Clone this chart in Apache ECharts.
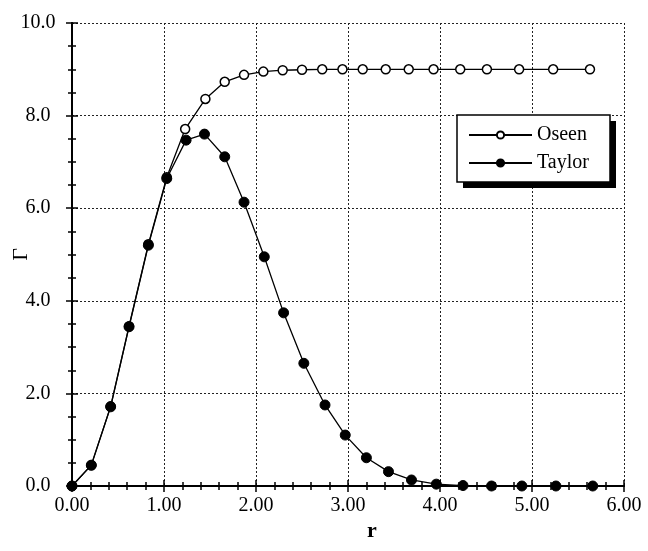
<!DOCTYPE html>
<html><head><meta charset="utf-8">
<script src="https://cdn.jsdelivr.net/npm/echarts@6/dist/echarts.min.js"></script>
<style>html,body{margin:0;padding:0;background:#fff}#c{width:648px;height:551px}</style>
</head><body><div id="c"></div>
<script>
const rOseen = [0, 0.21, 0.42, 0.62, 0.83, 1.03, 1.23, 1.45, 1.66, 1.87, 2.08, 2.29, 2.50, 2.72, 2.94, 3.16, 3.41, 3.66, 3.93, 4.22, 4.51, 4.86, 5.23, 5.63];
const gOseen = [0, 0.45, 1.72, 3.45, 5.22, 6.67, 7.71, 8.36, 8.73, 8.88, 8.95, 8.98, 8.99, 9.0, 9.0, 9.0, 9.0, 9.0, 9.0, 9.0, 9.0, 9.0, 9.0, 9.0];
const rTaylor = [0, 0.21, 0.42, 0.62, 0.83, 1.03, 1.24, 1.44, 1.66, 1.87, 2.09, 2.30, 2.52, 2.75, 2.97, 3.20, 3.44, 3.69, 3.96, 4.25, 4.56, 4.89, 5.26, 5.66];
const gTaylor = [0, 0.45, 1.71, 3.44, 5.20, 6.64, 7.47, 7.60, 7.11, 6.13, 4.95, 3.74, 2.65, 1.75, 1.10, 0.61, 0.31, 0.13, 0.04, 0.01, 0, 0, 0, 0];
const xTicks = ['0.00','1.00','2.00','3.00','4.00','5.00','6.00'];
const yTicks = ['0.0','2.0','4.0','6.0','8.0','10.0'];

const font = 'Liberation Serif';
const ax = {color:'#000', width:2};
const chart = echarts.init(document.getElementById('c'));
const pair = (xs, ys) => xs.map((x,i)=>[x, ys[i]]);
chart.setOption({
  animation:false,
  grid:{left:72, right:24, top:23, bottom:65, outerBoundsMode:'none', containLabel:false},
  graphic:[
    {type:'rect', z:50, shape:{x:463, y:121, width:153, height:67}, style:{fill:'#000'}},
    {type:'rect', z:51, shape:{x:457, y:115, width:153, height:67}, style:{fill:'#fff', stroke:'#000', lineWidth:1.5}}
  ],
  legend:{
    orient:'vertical', left:468, top:125, z:60,
    padding:0, itemGap:8, itemWidth:63, itemHeight:9,
    textStyle:{fontFamily:font, fontSize:20, color:'#000'},
    data:['Oseen','Taylor']
  },
  xAxis:[{
    type:'value', min:0, max:6, interval:1, position:'bottom',
    name:'r', nameLocation:'middle', nameGap:34, nameMoveOverlap:false,
    nameTextStyle:{fontFamily:font, fontSize:22, fontWeight:'bold', color:'#000', padding:[0,0,0,48]},
    axisLine:{lineStyle:ax},
    axisTick:{inside:true, length:6, lineStyle:{color:'#000', width:1.5}},
    minorTick:{show:true, splitNumber:5, length:4, lineStyle:{color:'#000', width:1.5}},
    axisLabel:{fontFamily:font, fontSize:20, color:'#000', margin:10, formatter:(v)=>xTicks[Math.round(v)]},
    splitLine:{show:true, lineStyle:{color:'#222', type:[2,2], width:1}}
  },{
    type:'value', min:0, max:6, interval:1, position:'top',
    axisLine:{lineStyle:ax},
    axisTick:{inside:true, length:6, lineStyle:{color:'#000', width:1.5}},
    minorTick:{show:true, splitNumber:5, length:4, lineStyle:{color:'#000', width:1.5}},
    axisLabel:{show:false}, splitLine:{show:false}
  }],
  yAxis:[{
    type:'value', min:0, max:10, interval:2, position:'left',
    name:'Γ', nameLocation:'middle', nameGap:40, nameRotate:90, nameMoveOverlap:false,
    nameTextStyle:{fontFamily:font, fontSize:22, color:'#000'},
    axisLine:{lineStyle:ax},
    axisTick:{inside:true, length:6, lineStyle:{color:'#000', width:1.5}},
    minorTick:{show:true, splitNumber:4, length:4, lineStyle:{color:'#000', width:1.5}},
    axisLabel:{fontFamily:font, fontSize:20, color:'#000', margin:34, align:'center', formatter:(v)=>yTicks[Math.round(v/2)]},
    splitLine:{show:true, lineStyle:{color:'#222', type:[2,2], width:1}}
  },{
    type:'value', min:0, max:10, interval:2, position:'right',
    axisLine:{lineStyle:ax},
    axisTick:{inside:true, length:6, lineStyle:{color:'#000', width:1.5}},
    minorTick:{show:true, splitNumber:4, length:4, lineStyle:{color:'#000', width:1.5}},
    axisLabel:{show:false}, splitLine:{show:false}
  }],
  series:[{
    name:'Oseen', type:'line', data:pair(rOseen, gOseen),
    symbol:'circle', symbolSize:9, showAllSymbol:true,
    lineStyle:{color:'#000', width:1.3},
    itemStyle:{color:'#fff', borderColor:'#000', borderWidth:1.5}
  },{
    name:'Taylor', type:'line', data:pair(rTaylor, gTaylor),
    symbol:'circle', symbolSize:10, showAllSymbol:true,
    lineStyle:{color:'#000', width:1.3},
    itemStyle:{color:'#000', borderColor:'#000', borderWidth:1}
  }]
});
</script></body></html>
